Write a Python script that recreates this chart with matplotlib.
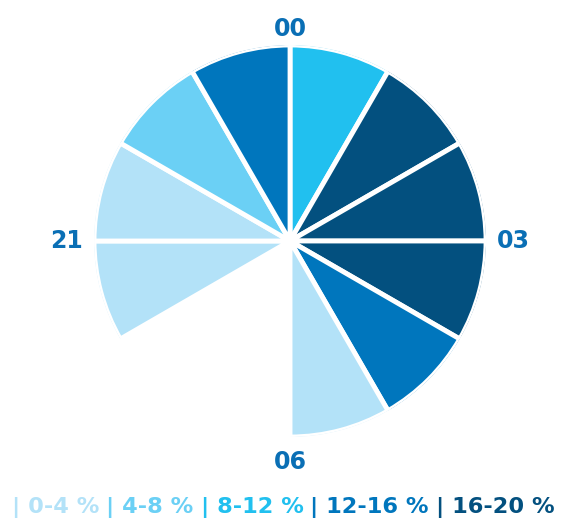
import numpy as np
import matplotlib.pyplot as plt
from matplotlib.offsetbox import TextArea, HPacker, AnchoredOffsetbox

# hours shown on the clock face and the share class of each hour
hours = [0, 1, 2, 3, 4, 5, 18, 19, 20, 21, 22, 23]
classes = ["8-12", "16-20", "16-20", "16-20", "12-16", "0-4",
           None, None, "0-4", "0-4", "4-8", "12-16"]

class_labels = ["0-4", "4-8", "8-12", "12-16", "16-20"]
class_colors = ["#b3e2f8", "#6bd0f5", "#21c0ef", "#0076bd", "#03507f"]

hour_labels = ["00", "03", "06", "21"]
label_hours = [0, 3, 6, 21]
label_radius = [1.08, 1.14, 1.13, 1.14]

label_color = "#0a6fb5"
font = "DejaVu Sans"

fig = plt.figure(figsize=(5.63, 5.19), dpi=100)
ax = fig.add_axes([0.1670, 0.158, 0.6963, 0.7553], projection="polar")
ax.set_theta_zero_location("N")
ax.set_theta_direction(-1)

width = np.deg2rad(30)
for h, c in zip(hours, classes):
    if c is None:
        continue
    theta = np.deg2rad((h % 12) * 30)
    col = class_colors[class_labels.index(c)]
    ax.bar(theta, 1.0, width=width, bottom=0, align="edge",
           color=col, edgecolor="white", linewidth=3.5)

for lab, h, r in zip(hour_labels, label_hours, label_radius):
    ax.text(np.deg2rad((h % 12) * 30), r, lab, ha="center", va="center",
            fontsize=17, fontweight="bold", color=label_color,
            family=font, clip_on=False)

ax.set_ylim(0, 1.0)
ax.axis("off")

# coloured legend line at the bottom
pieces = []
for lab, col in zip(class_labels, class_colors):
    pieces.append(TextArea("| " + lab + " %",
                           textprops=dict(color=col, fontsize=16.2,
                                          fontweight="bold", family=font)))
row = HPacker(children=pieces, align="baseline", pad=0, sep=5)
box = AnchoredOffsetbox(loc="lower center", child=row, pad=0, frameon=False,
                        bbox_to_anchor=(0.503, 0.001),
                        bbox_transform=fig.transFigure, borderpad=0)
fig.add_artist(box)

fig.savefig("out.png", dpi=100)
